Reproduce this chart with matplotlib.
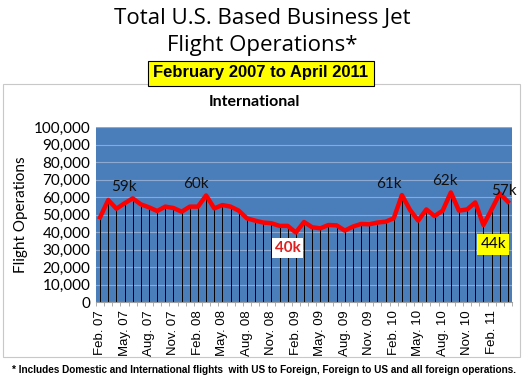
import numpy as np
import matplotlib.pyplot as plt
from matplotlib.patches import Rectangle

# monthly international flight operations, Feb 2007 - Apr 2011
months = ['Feb. 07', 'Mar. 07', 'Apr. 07', 'May. 07', 'Jun. 07', 'Jul. 07', 'Aug. 07',
          'Sep. 07', 'Oct. 07', 'Nov. 07', 'Dec. 07', 'Jan. 08', 'Feb. 08', 'Mar. 08',
          'Apr. 08', 'May. 08', 'Jun. 08', 'Jul. 08', 'Aug. 08', 'Sep. 08', 'Oct. 08',
          'Nov. 08', 'Dec. 08', 'Jan. 09', 'Feb. 09', 'Mar. 09', 'Apr. 09', 'May. 09',
          'Jun. 09', 'Jul. 09', 'Aug. 09', 'Sep. 09', 'Oct. 09', 'Nov. 09', 'Dec. 09',
          'Jan. 10', 'Feb. 10', 'Mar. 10', 'Apr. 10', 'May. 10', 'Jun. 10', 'Jul. 10',
          'Aug. 10', 'Sep. 10', 'Oct. 10', 'Nov. 10', 'Dec. 10', 'Jan. 11', 'Feb. 11',
          'Mar. 11', 'Apr. 11']
ops = [48400, 58300, 53300, 56400, 59200, 55800, 54100, 52000, 54500, 53700,
       51600, 54500, 54500, 60900, 53500, 55400, 54500, 52200, 47800, 46500,
       45400, 45000, 43500, 43500, 39700, 45700, 42700, 42100, 44000, 43800,
       40800, 43100, 44600, 44400, 45400, 45900, 47800, 61100, 52600, 46500,
       52900, 49100, 52200, 62600, 52200, 52900, 56900, 44000, 52900, 62000,
       57300]

# callouts: (month index, text)
plain_labels = [(4, '59k'), (13, '60k'), (37, '61k'), (43, '62k'), (50, '57k')]
plain_shift = [-6, -7, -9, -4, -3]  # points, Excel puts these a bit left

W, H = 524, 381
fig = plt.figure(figsize=(W / 100, H / 100), dpi=100)
fig.patch.set_facecolor('white')

# outer chart frame
fig.patches.append(Rectangle((3 / W, 1 - 357 / H), 517 / W, 273 / H, transform=fig.transFigure,
                             fill=False, edgecolor='#c8c8c8', linewidth=0.8))

fig.text(0.5, 1 - 18 / H, 'Total U.S. Based Business Jet', ha='center', va='center',
         fontsize=16, family='Open Sans')
fig.text(0.5, 1 - 46 / H, 'Flight Operations*', ha='center', va='center',
         fontsize=16, family='Open Sans')
fig.text(261 / W, 1 - 73 / H, 'February 2007 to April 2011', ha='center', va='center',
         fontsize=12, fontweight='bold', family='Liberation Sans',
         bbox=dict(boxstyle='square,pad=0.3', facecolor='#ffff00', edgecolor='black', linewidth=0.8))
fig.text(254 / W, 1 - 102 / H, 'International', ha='center', va='center',
         fontsize=11.5, fontweight='bold', family='Lato')
fig.text(264 / W, 1 - 370 / H,
         '* Includes Domestic and International flights  with US to Foreign, Foreign to US and all foreign operations.',
         ha='center', va='center', fontsize=7.2, fontweight='bold', family='Liberation Sans')

ax = fig.add_axes([96 / W, 1 - 302 / H, 416 / W, 175 / H])
ax.set_facecolor('#4a7ebb')
x = np.arange(len(ops))
ax.set_xlim(-0.5, len(ops) - 0.5)
ax.set_ylim(0, 100000)
ax.set_yticks(np.arange(0, 100001, 10000))
ax.set_yticklabels(['{:,}'.format(v) for v in range(0, 100001, 10000)], fontsize=11, family='Lato')
ax.yaxis.grid(True, color='#8ea8d0', linewidth=0.8)
ax.set_axisbelow(True)

ax.vlines(x, 0, ops, color='black', linewidth=0.7, zorder=2)
ax.plot(x, ops, color='#ff0000', linewidth=3.2, solid_joinstyle='round', zorder=3)

ax.set_xticks(x[::3])
ax.set_xticklabels(months[::3], rotation=90, fontsize=9.5, family='Liberation Sans')
ax.set_xticks(np.arange(-0.5, len(ops), 1), minor=True)
ax.tick_params(axis='x', which='major', length=0, pad=6)
ax.tick_params(axis='x', which='minor', length=3, color='#a0a0a0')
ax.tick_params(axis='y', length=0, pad=4)
for s in ['top', 'right', 'left']:
    ax.spines[s].set_visible(False)
ax.spines['bottom'].set_color('#a0a0a0')
ax.set_ylabel('Flight Operations', fontsize=11, family='Lato', labelpad=4)

for (i, t), dx in zip(plain_labels, plain_shift):
    ax.annotate(t, (x[i], ops[i]), xytext=(dx, 3), textcoords='offset points',
                ha='center', va='bottom', fontsize=11, family='Lato', color='#101010',
                annotation_clip=False)
ax.annotate('40k', (x[24], ops[24]), xytext=(-6, -6), textcoords='offset points',
            ha='center', va='top', fontsize=11, fontweight='bold', family='Lato', color='#e02020',
            bbox=dict(boxstyle='square,pad=0.2', facecolor='white', edgecolor='none'))
ax.annotate('44k', (x[47], ops[47]), xytext=(7, -9), textcoords='offset points',
            ha='center', va='top', fontsize=11, family='Lato', color='black',
            bbox=dict(boxstyle='square,pad=0.2', facecolor='#ffff00', edgecolor='none'))

fig.savefig('out.png', dpi=100)
